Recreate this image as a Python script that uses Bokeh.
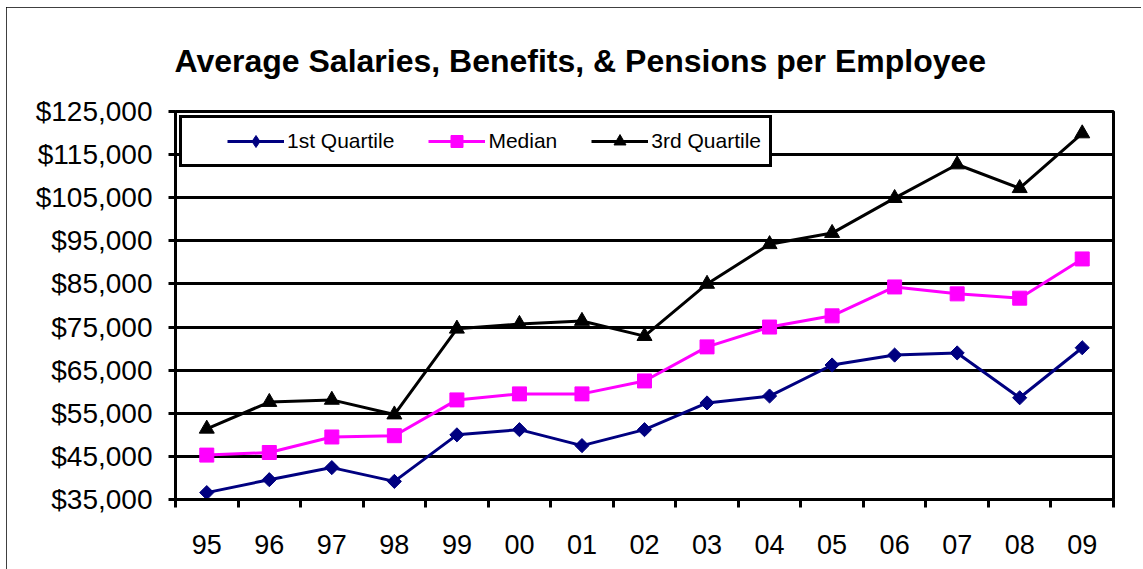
import math
from bokeh.plotting import figure
from bokeh.models import FixedTicker, Range1d, NumeralTickFormatter, Legend, LegendItem
from bokeh.embed import file_html
from bokeh.resources import INLINE

years = ["95", "96", "97", "98", "99", "00", "01", "02", "03", "04", "05", "06", "07", "08", "09"]
q1 = [36600, 39600, 42400, 39200, 50000, 51200, 47500, 51200, 57400, 59000, 66200, 68500, 69000, 58600, 70200]
median = [45300, 45900, 49500, 49800, 58100, 59500, 59500, 62500, 70400, 75000, 77600, 84300, 82700, 81700, 90800]
q3 = [51400, 57600, 58100, 54700, 74600, 75700, 76400, 72900, 85000, 94200, 96800, 104900, 112700, 107200, 119900]
y_ticks = [35000, 45000, 55000, 65000, 75000, 85000, 95000, 105000, 115000, 125000]
title_text = "Average Salaries, Benefits, & Pensions per Employee"

FONT = "Liberation Sans"
xs = list(range(len(years)))

p = figure(width=1135, height=562, output_backend="svg", toolbar_location=None,
           x_range=Range1d(-0.5, len(years) - 0.5), y_range=Range1d(y_ticks[0], y_ticks[-1]),
           min_border_left=169, min_border_right=28, min_border_top=103, min_border_bottom=70,
           styles={"margin-left": "6px", "margin-top": "7px",
                   "outline": "2px solid black", "outline-offset": "-2px"})

p.title.text = title_text
p.title.text_font = FONT
p.title.text_font_size = "32px"
p.title.text_font_style = "bold"
p.title.text_color = "black"
p.title.align = "left"
p.title.offset = -1
p.title.standoff = 66

p.outline_line_color = "black"
p.outline_line_width = 3
p.xgrid.visible = False
p.ygrid.grid_line_color = "black"
p.ygrid.grid_line_width = 3
p.ygrid.ticker = FixedTicker(ticks=y_ticks)

ya = p.yaxis[0]
ya.ticker = FixedTicker(ticks=y_ticks)
ya.formatter = NumeralTickFormatter(format="$0,0")
ya.axis_line_width = 3
ya.major_tick_line_width = 3
ya.major_tick_out = 7
ya.major_tick_in = 0
ya.minor_tick_line_color = None
ya.major_label_text_font = FONT
ya.major_label_text_font_size = "28px"
ya.major_label_text_color = "black"
ya.major_label_standoff = 16

xa = p.xaxis[0]
xa.ticker = FixedTicker(ticks=xs, minor_ticks=[i - 0.5 for i in range(len(years) + 1)])
xa.major_label_overrides = {i: y for i, y in enumerate(years)}
xa.axis_line_width = 3
xa.major_tick_out = 0
xa.major_tick_in = 0
xa.minor_tick_out = 8
xa.minor_tick_in = 0
xa.minor_tick_line_width = 3
xa.major_label_text_font = FONT
xa.major_label_text_font_size = "27px"
xa.major_label_text_color = "black"
xa.major_label_standoff = 27

NAVY, MAGENTA = "#000080", "#FF00FF"

l1 = p.line(xs, q1, line_color=NAVY, line_width=3)
m1 = p.scatter(xs, q1, marker="square", angle=math.pi / 4, size=10,
               fill_color=NAVY, line_color=NAVY)
# legend-only key (diamond, as drawn in the legend); its point is not drawn
k1 = p.scatter(x=[float("nan")], y=[float("nan")], marker="diamond", size=14,
               fill_color=NAVY, line_color=NAVY)
l2 = p.line(xs, median, line_color=MAGENTA, line_width=3)
m2 = p.scatter(xs, median, marker="square", size=14, fill_color=MAGENTA, line_color=MAGENTA)
l3 = p.line(xs, q3, line_color="black", line_width=3)
m3 = p.scatter(xs, q3, marker="triangle", size=15, fill_color="black", line_color="black")

legend = Legend(items=[LegendItem(label="1st Quartile", renderers=[l1, k1]),
                       LegendItem(label="Median", renderers=[l2, m2]),
                       LegendItem(label="3rd Quartile", renderers=[l3, m3])],
                orientation="horizontal", location="top_left", margin=4,
                padding=8, spacing=34, glyph_width=57, glyph_height=30, label_standoff=3,
                label_text_font=FONT, label_text_font_size="21px", label_text_color="black",
                title=" ", title_location="left", title_text_font_size="4px", title_standoff=32,
                border_line_color="black", border_line_width=3, border_line_alpha=1,
                background_fill_alpha=1)
p.add_layout(legend, "center")

open("out.html", "w").write(file_html(p, INLINE))
